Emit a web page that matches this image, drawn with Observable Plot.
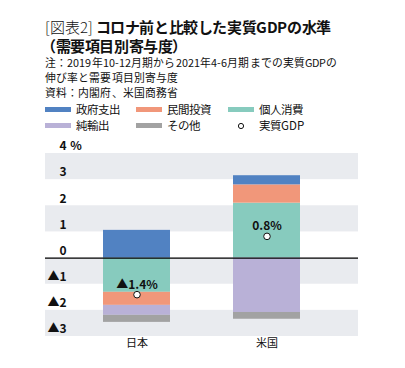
<!DOCTYPE html>
<html><head><meta charset="utf-8">
<script src="https://cdn.jsdelivr.net/npm/d3@7"></script>
<script src="https://cdn.jsdelivr.net/npm/@observablehq/plot@0.6"></script>
<style>
@font-face{font-family:"JPT";src:local("Noto Sans CJK JP"),local("NotoSansCJKjp-Regular"),local("Noto Sans CJK JP Regular");font-weight:400;ascent-override:100%;descent-override:22%;}
@font-face{font-family:"JPT";src:local("Noto Sans CJK JP Light"),local("NotoSansCJKjp-Light"),local("Noto Sans CJK JP");font-weight:300;ascent-override:100%;descent-override:22%;}
@font-face{font-family:"JPT";src:local("Noto Sans CJK JP Bold"),local("NotoSansCJKjp-Bold");font-weight:700;ascent-override:100%;descent-override:22%;}
body{margin:0;background:#fff;font-family:"JPT","Noto Sans CJK JP","Noto Sans",sans-serif;color:#111;}
#wrap{position:relative;width:405px;height:368px;}
.t{position:absolute;left:45px;white-space:nowrap;}
.title{font-size:15px;font-weight:700;line-height:17px;height:17px;letter-spacing:-0.4px;}
.title .r{font-weight:300;letter-spacing:0;}
.note{font-size:10.8px;line-height:13px;height:13px;letter-spacing:0.1px;}
.leg{position:absolute;font-size:11.5px;display:flex;align-items:center;white-space:nowrap;}
.sw{display:inline-block;width:26px;height:5px;margin-right:5px;}
#chart{position:absolute;left:0;top:128px;}
</style></head><body>
<div id="wrap">
  <div class="t title" style="top:19px"><span class="r">[図表2]</span> コロナ前と比較した実質GDPの水準</div>
  <div class="t title" style="top:38px;left:41px">（需要項目別寄与度）</div>
  <div class="t note" style="top:56px">注：2019年10-12月期から2021年4-6月期までの実質GDPの</div>
  <div class="t note" style="top:71px">伸び率と需要項目別寄与度</div>
  <div class="t note" style="top:86px">資料：内閣府、米国商務省</div>
  <div id="legend"></div>
  <div id="chart"></div>
</div>
<script>
const countries = ["日本", "米国"];
const seriesNames = ["個人消費", "民間投資", "政府支出", "純輸出", "その他"];
const seriesColors = ["#87cbbe", "#f1977a", "#5182c2", "#b9b1d7", "#a2a2a2"];
const japanValues = [-1.31, -0.50, 1.06, -0.38, -0.27];
const usValues = [2.10, 0.70, 0.35, -2.08, -0.26];
const gdpValues = [-1.4, 0.83];
const gdpLabels = ["▲1.4%", "0.8%"];
const yTicks = [4, 3, 2, 1, 0, -1, -2, -3];
const yTickLabels = ["4", "3", "2", "1", "0", "▲1", "▲2", "▲3"];
const bandPairs = [[4, 3], [2, 1], [0, -1], [-2, -3]];
const legendOrder = ["政府支出", "民間投資", "個人消費", "純輸出", "その他", "実質GDP"];

// legend
const legendPos = [[45,102],[136,102],[228,102],[45,118],[136,118],[228,118]];
const lg = document.getElementById("legend");
legendOrder.forEach((name, i) => {
  const d = document.createElement("div");
  d.className = "leg";
  d.style.left = legendPos[i][0] + "px";
  d.style.top = legendPos[i][1] + "px";
  const idx = seriesNames.indexOf(name);
  if (idx >= 0) {
    d.innerHTML = `<span class="sw" style="background:${seriesColors[idx]}"></span><span>${name}</span>`;
  } else {
    d.innerHTML = `<span style="display:inline-block;width:26px;text-align:center;margin-right:5px"><svg width="8" height="8"><circle cx="4" cy="4" r="2.6" fill="#fff" stroke="#111" stroke-width="1"/></svg></span><span>${name}</span>`;
  }
  lg.appendChild(d);
});

const data = [];
seriesNames.forEach((s, i) => {
  data.push({country: countries[0], series: s, value: japanValues[i]});
  data.push({country: countries[1], series: s, value: usValues[i]});
});
const gdp = countries.map((c, i) => ({country: c, value: gdpValues[i], label: gdpLabels[i]}));
const ticks = yTicks.map((v, i) => ({v, label: yTickLabels[i]}));
const bands = bandPairs.map(([a, b]) => ({y1: a, y2: b}));

const plot = Plot.plot({
  width: 405,
  height: 240,
  marginLeft: 45,
  marginRight: 47,
  marginTop: 25,
  marginBottom: 32,
  style: {fontFamily: '"Noto Sans CJK JP","Noto Sans",sans-serif', background: "transparent", overflow: "visible"},
  x: {domain: countries, paddingInner: 0.485, paddingOuter: 0.446, axis: null},
  y: {domain: [-3, 4], axis: null},
  color: {domain: seriesNames, range: seriesColors},
  marks: [
    Plot.rect(bands, {y1: "y1", y2: "y2", fill: "#e9ebef"}),
    Plot.barY(data, {x: "country", y: "value", fill: "series", order: seriesNames}),
    Plot.ruleY([0], {stroke: "#000", strokeWidth: 1.2}),
    Plot.dot(gdp, {x: "country", y: "value", r: 3.3, fill: "#fff", stroke: "#111", strokeWidth: 1}),
    Plot.text(gdp, {x: "country", y: "value", text: "label", dy: -10, fontSize: 12, fontWeight: "bold", fill: "#111"}),
    Plot.text(ticks, {y: "v", text: "label", frameAnchor: "left", dx: 21, dy: -7, textAnchor: "end", fontSize: 12, fontWeight: "bold", fill: "#111"}),
    Plot.text([{v: 4}], {y: "v", text: () => " %", frameAnchor: "left", dx: 22, dy: -7, textAnchor: "start", fontSize: 12, fontWeight: "bold", fill: "#111"}),
    Plot.text(countries, {x: d => d, text: d => d, frameAnchor: "bottom", dy: 10, fontSize: 11, fill: "#111"})
  ]
});
document.getElementById("chart").appendChild(plot);
</script>
</body></html>
